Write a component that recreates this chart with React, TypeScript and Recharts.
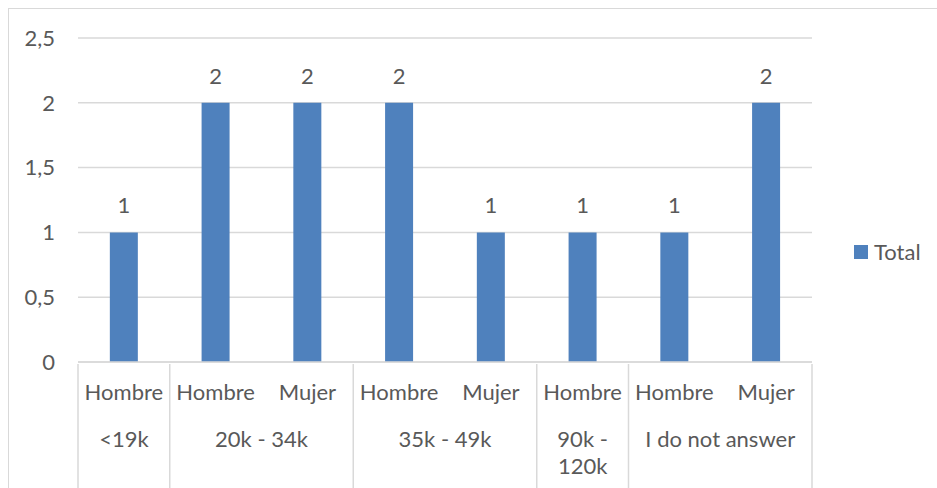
import { BarChart, Bar, XAxis, YAxis, CartesianGrid, LabelList } from "recharts";

const groups = ["<19k", "20k - 34k", "20k - 34k", "35k - 49k", "35k - 49k", "90k - 120k", "I do not answer", "I do not answer"];
const sexes = ["Hombre", "Hombre", "Mujer", "Hombre", "Mujer", "Hombre", "Hombre", "Mujer"];
const totals = [1, 2, 2, 2, 1, 1, 1, 2];
const yTicks = [0, 0.5, 1, 1.5, 2, 2.5];

const data = sexes.map((s, i) => ({ key: i, sex: s, group: groups[i], Total: totals[i] }));

const BLUE = "#4f81bd";
const TEXT = "#595959";
const GRID = "#d9d9d9";
const FONT = "Lato, 'Open Sans', sans-serif";
const FS = 22;

const PLOT_LEFT = 78;
const PLOT_RIGHT = 812;
const BAND = (PLOT_RIGHT - PLOT_LEFT) / sexes.length;

function wrap(text: string, span: number) {
    const maxChars = Math.floor((span - 8) / (FS * 0.5));
    const words = text.split(" ");
    const lines: string[] = [];
    let cur = "";
    for (const w of words) {
        const next = cur ? cur + " " + w : w;
        if (next.length > maxChars && cur) {
            lines.push(cur);
            cur = w;
        } else cur = next;
    }
    if (cur) lines.push(cur);
    return lines;
}

function GroupTick(props: any) {
    const { x, y, payload } = props;
    const i = payload.index;
    const top = y;
    const first = i === 0 || groups[i - 1] !== groups[i];
    const last = i === groups.length - 1;
    let n = 0;
    if (first) {
        while (i + n < groups.length && groups[i + n] === groups[i]) n++;
    }
    const left = x - BAND / 2;
    const lines = first ? wrap(groups[i], n * BAND) : [];
    return (
        <g>
            <text x={x} y={top + 30} textAnchor="middle" dominantBaseline="middle" fill={TEXT} fontSize={FS} fontFamily={FONT}>
                {sexes[i]}
            </text>
            {first && <line x1={left} x2={left} y1={top} y2={top + 130} stroke={GRID} strokeWidth={1.5} />}
            {last && <line x1={x + BAND / 2} x2={x + BAND / 2} y1={top} y2={top + 130} stroke={GRID} strokeWidth={1.5} />}
            {lines.map((l, k) => (
                <text key={k} x={left + (n * BAND) / 2} y={top + 77 + k * 27} textAnchor="middle" dominantBaseline="middle" fill={TEXT} fontSize={FS} fontFamily={FONT}>
                    {l}
                </text>
            ))}
        </g>
    );
}

export default function App() {
    return (
        <div style={{ position: "absolute", left: 0, top: 0, width: 937, height: 488, overflow: "hidden", background: "#fff" }}>
            <div style={{ position: "absolute", left: 8, top: 8, width: 960, height: 520, border: `1.5px solid ${GRID}` }} />
            <div style={{ position: "absolute", left: 0, top: 0 }}>
                <BarChart width={937} height={488} data={data} margin={{ top: 38, right: 937 - PLOT_RIGHT, bottom: 0, left: 0 }} barCategoryGap="34.7%">
                    <CartesianGrid vertical={false} stroke={GRID} strokeWidth={1.5} />
                    <XAxis
                        dataKey="key"
                        height={126}
                        axisLine={{ stroke: GRID, strokeWidth: 1.5 }}
                        tickLine={false}
                        tickSize={0}
                        interval={0}
                        tick={<GroupTick />}
                    />
                    <YAxis
                        width={PLOT_LEFT}
                        domain={[0, 2.5]}
                        ticks={yTicks}
                        axisLine={false}
                        tickLine={false}
                        tickSize={0}
                        tickMargin={23}
                        tickFormatter={(v: number) => String(v).replace(".", ",")}
                        tick={{ fill: TEXT, fontSize: FS, fontFamily: FONT }}
                    />
                    <Bar dataKey="Total" fill={BLUE} isAnimationActive={false}>
                        <LabelList dataKey="Total" position="top" offset={19} fill={TEXT} fontSize={FS} fontFamily={FONT} />
                    </Bar>
                </BarChart>
            </div>
            <div style={{ position: "absolute", left: 854, top: 238, display: "flex", alignItems: "center", fontFamily: FONT, fontSize: FS, color: TEXT }}>
                <div style={{ width: 14, height: 14, background: BLUE, marginRight: 6 }} />
                <span>Total</span>
            </div>
        </div>
    );
}
